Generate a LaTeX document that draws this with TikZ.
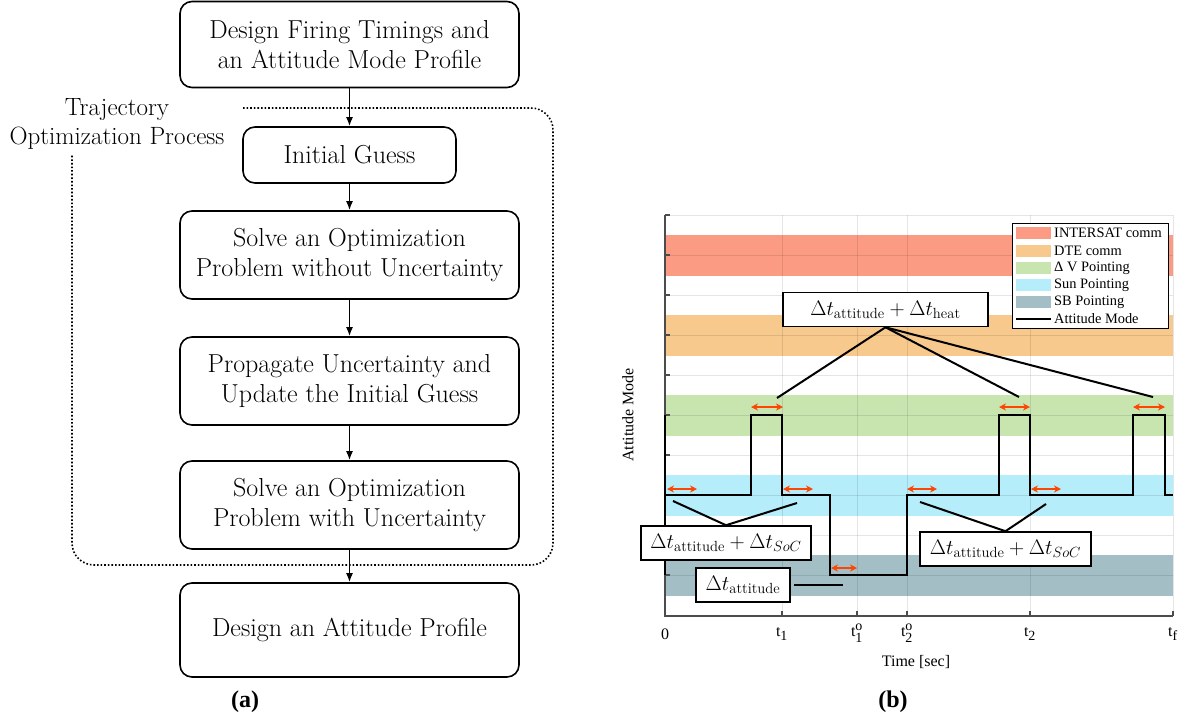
\documentclass[tikz,border=0pt]{standalone}
\usepackage{fix-cm}
\usepackage{amsmath}
\usepackage{fontspec}
\newfontfamily\plotfont{Liberation Serif}
\usetikzlibrary{arrows.meta}

\definecolor{intersat}{RGB}{252,155,131}
\definecolor{dtecomm}{RGB}{248,201,141}
\definecolor{dvpoint}{RGB}{200,229,176}
\definecolor{sunpoint}{RGB}{181,237,250}
\definecolor{sbpoint}{RGB}{163,191,197}
\definecolor{tipred}{RGB}{255,69,0}

\newcommand\ticksize{\fontsize{14}{14}\selectfont}
\newcommand\tsub[1]{$\text{t}_{\text{\ticksize\raisebox{-0.35ex}{#1}}}$}
\newcommand\tsubsup[2]{$\text{t}^{\text{\ticksize #2}}_{\text{\ticksize\raisebox{-0.35ex}{#1}}}$}

\tikzset{
  flowbox/.style={draw, line width=1.6pt, rounded corners=12pt, align=center,
    font=\fontsize{26}{30}\selectfont, minimum width=339pt, minimum height=88pt, inner sep=0pt},
  flowarrow/.style={line width=1.6pt, -{Latex[length=9pt,width=7pt]}},
  procframe/.style={dotted, line width=1.6pt, rounded corners=22pt},
  tagbox/.style={draw, fill=white, line width=1.6pt, minimum height=34pt, inner sep=0pt,
    font=\fontsize{21}{25}\selectfont},
  tagline/.style={line width=2pt},
  twoarrow/.style={tipred, line width=2pt, {Stealth[length=7pt,width=7pt]}-{Stealth[length=7pt,width=7pt]}},
  modeline/.style={line width=2.6pt},
  gridline/.style={black, opacity=0.1, line width=1pt},
  axisline/.style={black!70, line width=1.2pt},
  legtext/.style={anchor=west, inner sep=0pt, font=\plotfont\fontsize{14.4}{16}\selectfont},
  ticklabel/.style={anchor=base, inner sep=0pt, font=\plotfont\fontsize{16}{18}\selectfont},
}

\begin{document}
\begin{tikzpicture}[x=1pt, y=-1pt]
  \useasboundingbox (0,0) rectangle (1187,721);

  % (a) flow of the design process
  \node[flowbox, minimum height=86pt] (firing) at (349.5,44.5) {Design Firing Timings and\\an Attitude Mode Profile};
  \node[flowbox, minimum width=213pt, minimum height=56pt] (guess) at (349.5,155) {Initial Guess};
  \node[flowbox] (nounc) at (349.5,255) {Solve an Optimization\\Problem without Uncertainty};
  \node[flowbox] (propunc) at (349.5,381) {Propagate Uncertainty and\\Update the Initial Guess};
  \node[flowbox] (withunc) at (349.5,505) {Solve an Optimization\\Problem with Uncertainty};
  \node[flowbox, minimum height=94pt] (attprof) at (349.5,630) {Design an Attitude Profile};
  \draw[flowarrow] (firing) -- (guess);
  \draw[flowarrow] (guess) -- (nounc);
  \draw[flowarrow] (nounc) -- (propunc);
  \draw[flowarrow] (propunc) -- (withunc);
  \draw[flowarrow] (withunc) -- (attprof);

  \node[align=center, font=\fontsize{25}{29}\selectfont] (trajlabel) at (117,124) {Trajectory\\Optimization Process};
  \coordinate (frametop) at (243,108);
  \coordinate (frameleft) at (72,155);
  \draw[procframe] (frametop) -- (553,108) -- (553,565) -- (72,565) -- (frameleft);

  \node[font=\plotfont\bfseries\fontsize{24}{28}\selectfont] (capa) at (245,702) {(a)};

  % (b) attitude mode history
  \foreach \yc/\bc in {255/intersat,335/dtecomm,415/dvpoint,495/sunpoint,575/sbpoint}
    \fill[\bc] (665,\yc-20.5) rectangle (1173,\yc+20.5);
  \foreach \yy in {215,255,...,575}
    \draw[gridline] (665,\yy) -- (1173,\yy);
  \foreach \xx in {782,857,907,1030,1173}
    \draw[gridline] (\xx,215) -- (\xx,616);
  \draw[axisline] (665,215) -- (665,616) -- (1173,616);
  \foreach \yy in {215,255,...,575}
    \draw[axisline] (665,\yy) -- (670,\yy);
  \foreach \xx in {782,857,907,1030,1173}
    \draw[axisline] (\xx,616) -- (\xx,611);

  \draw[modeline] (665,415) -- (665,575);
  \draw[modeline] (665,495) -- (751,495) -- (751,415) -- (782,415) -- (782,495) -- (830,495)
    -- (830,575) -- (907,575) -- (907,495) -- (999,495) -- (999,415) -- (1030,415) -- (1030,495)
    -- (1133,495) -- (1133,415) -- (1165,415) -- (1165,495) -- (1173,495);

  \foreach \xa/\xb/\yy in {751/783/407, 999/1030/407, 1133/1165/407,
                          667/697/489, 783/813/489, 907/937/489, 1031/1061/489, 831/857/568}
    \draw[twoarrow] (\xa,\yy) -- (\xb,\yy);

  % annotations
  \node[tagbox, minimum width=205pt] (heat) at (885.5,309.5) {$\Delta t_{\mathrm{attitude}}+\Delta t_{\mathrm{heat}}$};
  \coordinate (heat1) at (777,398);
  \coordinate (heat2) at (1019,397);
  \coordinate (heat3) at (1153,397);
  \draw[tagline] (heat1) -- (heat.south) -- (heat2);
  \draw[tagline] (heat.south) -- (heat3);

  \node[tagbox, minimum width=170pt] (socleft) at (726,543) {$\Delta t_{\mathrm{attitude}}+\Delta t_{SoC}$};
  \coordinate (socl1) at (673,501);
  \coordinate (socl2) at (797,503);
  \draw[tagline] (socl1) -- (socleft.north) -- (socl2);

  \node[tagbox, minimum width=171pt] (socright) at (1005.5,549) {$\Delta t_{\mathrm{attitude}}+\Delta t_{SoC}$};
  \coordinate (socr1) at (920,502);
  \coordinate (socr2) at (1046,504);
  \draw[tagline] (socr1) -- (socright.north) -- (socr2);

  \node[tagbox, minimum width=94pt] (attonly) at (743,585) {$\Delta t_{\mathrm{attitude}}$};
  \coordinate (att1) at (843,585);
  \draw[tagline] ([xshift=3pt]attonly.east) -- (att1);

  % legend
  \node[draw, fill=white, line width=1pt, minimum width=156pt, minimum height=105pt] (legend) at (1090,275.5) {};
  \foreach \yc/\bc/\txt in {233/intersat/INTERSAT comm, 251/dtecomm/DTE comm, 268/dvpoint/Δ V Pointing,
                            285/sunpoint/Sun Pointing, 302/sbpoint/SB Pointing} {
    \fill[\bc] (1016,\yc-6) rectangle (1051,\yc+6);
    \node[legtext] (leg-\bc) at (1054,\yc) {\txt};
  }
  \draw[line width=2pt] (1016,319) -- (1051,319);
  \node[legtext] (leg-mode) at (1054,319) {Attitude Mode};

  % axis labels
  \node[ticklabel] (tick0) at (665,639) {0};
  \node[ticklabel] (tick1) at (782,636) {\tsub{1}};
  \node[ticklabel] (tick1o) at (857,636) {\tsubsup{1}{o}};
  \node[ticklabel] (tick2o) at (907,636) {\tsubsup{2}{o}};
  \node[ticklabel] (tick2) at (1030,636) {\tsub{2}};
  \node[ticklabel] (tickf) at (1173,636) {\tsub{f}};
  \node[font=\plotfont\fontsize{16}{18}\selectfont] (xlabel) at (916,662) {Time [sec]};
  \node[font=\plotfont\fontsize{16}{18}\selectfont, rotate=90] (ylabel) at (628,415) {Attitude Mode};

  \node[font=\plotfont\bfseries\fontsize{24}{28}\selectfont] (capb) at (893,702) {(b)};
\end{tikzpicture}
\end{document}
